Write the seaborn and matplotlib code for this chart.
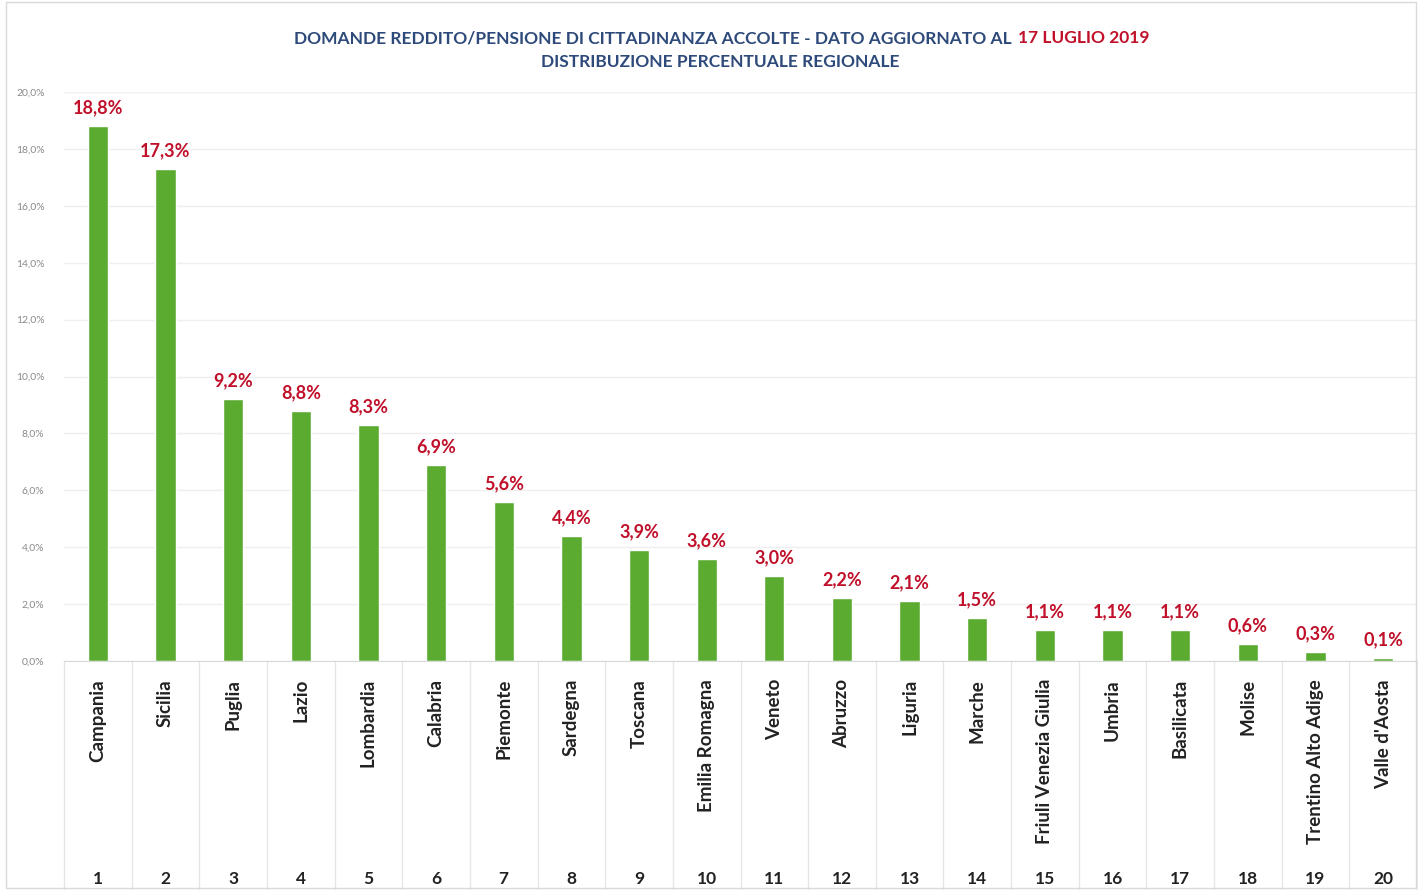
import numpy as np
import pandas as pd
import seaborn as sns
import matplotlib.pyplot as plt
from matplotlib.patches import Rectangle
from matplotlib.transforms import blended_transform_factory

# dati
regioni = ['Campania', 'Sicilia', 'Puglia', 'Lazio', 'Lombardia', 'Calabria',
           'Piemonte', 'Sardegna', 'Toscana', 'Emilia Romagna', 'Veneto',
           'Abruzzo', 'Liguria', 'Marche', 'Friuli Venezia Giulia', 'Umbria',
           'Basilicata', 'Molise', 'Trentino Alto Adige', "Valle d'Aosta"]
percentuali = [18.8, 17.3, 9.2, 8.8, 8.3, 6.9, 5.6, 4.4, 3.9, 3.6, 3.0,
               2.2, 2.1, 1.5, 1.1, 1.1, 1.1, 0.6, 0.3, 0.1]
posizioni = list(range(1, 21))
yticks = list(range(0, 21, 2))

blu = '#2e4a7a'
rosso = '#c0102a'
verde = '#5bab31'

sns.set_style('white')
plt.rcParams['font.family'] = ['Lato', 'DejaVu Sans']

fig = plt.figure(figsize=(14.18, 8.9), dpi=100)
ax = fig.add_axes([64 / 1418, 1 - 661 / 890, (1417 - 64) / 1418, (661 - 92) / 890])

df = pd.DataFrame({'regione': regioni, 'perc': percentuali})
sns.barplot(data=df, x='regione', y='perc', color=verde, saturation=1,
            width=0.3, ax=ax)

ax.set_xlim(-0.5, len(regioni) - 0.5)
ax.set_ylim(0, 20)
ax.set_xlabel('')
ax.set_ylabel('')

# etichette valori
etichette = [f"{v:.1f}%".replace('.', ',') for v in percentuali]
ax.bar_label(ax.containers[0], labels=etichette, padding=7, color=rosso,
             fontsize=13, fontweight='bold')

# asse y
ax.set_yticks(yticks)
ax.set_yticklabels([f"{t:.1f}%".replace('.', ',') for t in yticks],
                   fontsize=7.5, color='#8a8a8a')
ax.tick_params(axis='y', length=0, pad=14)
ax.yaxis.grid(True, color='#efefef', lw=1)
ax.set_axisbelow(True)

# asse x
ax.set_xticks(range(len(regioni)))
ax.set_xticklabels(regioni, rotation=90, va='top', fontsize=13.5,
                   fontweight='bold', color='#222222')
ax.tick_params(axis='x', length=0, pad=13)

for s in ['top', 'right', 'left']:
    ax.spines[s].set_visible(False)
ax.spines['bottom'].set_color('#d9d9d9')

tr = blended_transform_factory(ax.transData, ax.transAxes)
for i in range(len(regioni) + 1):
    ax.plot([i - 0.5, i - 0.5], [0, -0.40], transform=tr, color='#e6e6e6',
            lw=1, clip_on=False)
for i, n in enumerate(posizioni):
    ax.text(i, -0.383, str(n), transform=tr, ha='center', va='center',
            fontsize=12.5, fontweight='bold', color='#222222')

# titolo
fig.text(1012 / 1418, 1 - 38 / 890,
         'DOMANDE REDDITO/PENSIONE DI CITTADINANZA ACCOLTE - DATO AGGIORNATO AL',
         ha='right', va='center', fontsize=12.5, fontweight='bold', color=blu)
fig.text(1018 / 1418, 1 - 38 / 890, '17 LUGLIO 2019', ha='left', va='center',
         fontsize=12.5, fontweight='bold', color=rosso)
fig.text(720 / 1418, 1 - 62 / 890, 'DISTRIBUZIONE PERCENTUALE REGIONALE',
         ha='center', va='center', fontsize=12.5, fontweight='bold', color=blu)

fig.patches.append(Rectangle((6 / 1418, 2 / 890), 1 - 8 / 1418, 1 - 4 / 890,
                             transform=fig.transFigure, fill=False,
                             ec='#d9d9d9', lw=1))

fig.savefig('out.png', dpi=100)
